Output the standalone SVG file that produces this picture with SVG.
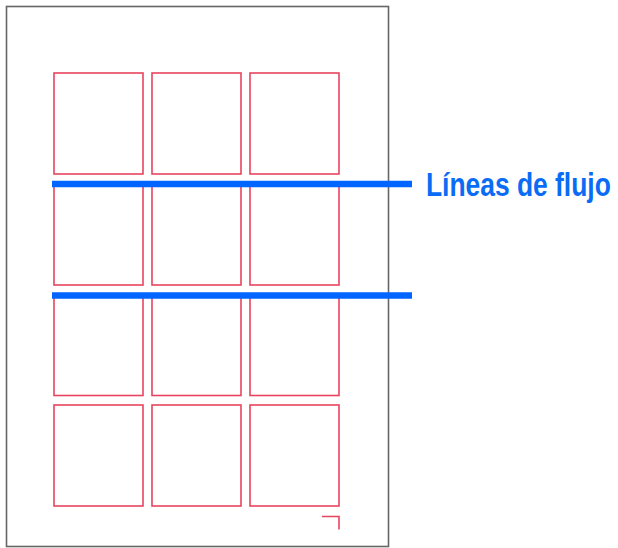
<svg xmlns="http://www.w3.org/2000/svg" width="618" height="548" viewBox="0 0 618 548">
<style>
.page{fill:#fff;stroke:#666;stroke-width:1.6}
.cell{fill:none;stroke:#e8445e;stroke-width:1.6}
.flow{stroke:#0066ff;stroke-width:6.5;fill:none}
.lbl{font-family:"Liberation Sans",Arial,sans-serif;font-weight:bold;font-size:33px;fill:#0a6cf5}
</style>
<rect width="618" height="548" fill="#fff"/>
<g id="page"><rect class="page" x="6.5" y="6.5" width="382" height="540"/></g>
<g id="grid">
<rect class="cell" x="54" y="73" width="89" height="101"/>
<rect class="cell" x="152" y="73" width="89" height="101"/>
<rect class="cell" x="250" y="73" width="89" height="101"/>
<rect class="cell" x="54" y="184" width="89" height="101"/>
<rect class="cell" x="152" y="184" width="89" height="101"/>
<rect class="cell" x="250" y="184" width="89" height="101"/>
<rect class="cell" x="54" y="294.5" width="89" height="101"/>
<rect class="cell" x="152" y="294.5" width="89" height="101"/>
<rect class="cell" x="250" y="294.5" width="89" height="101"/>
<rect class="cell" x="54" y="405" width="89" height="101"/>
<rect class="cell" x="152" y="405" width="89" height="101"/>
<rect class="cell" x="250" y="405" width="89" height="101"/>
<path class="cell" d="M322 516.5H339V529.5"/>
</g>
<g id="connectors">
<line class="flow" x1="52" y1="184" x2="412" y2="184"/>
<line class="flow" x1="52" y1="295.5" x2="412" y2="295.5"/>
</g>
<g id="label"><text class="lbl" transform="translate(426 196) scale(0.8 1)" x="0" y="0">Líneas de flujo</text></g>
</svg>
